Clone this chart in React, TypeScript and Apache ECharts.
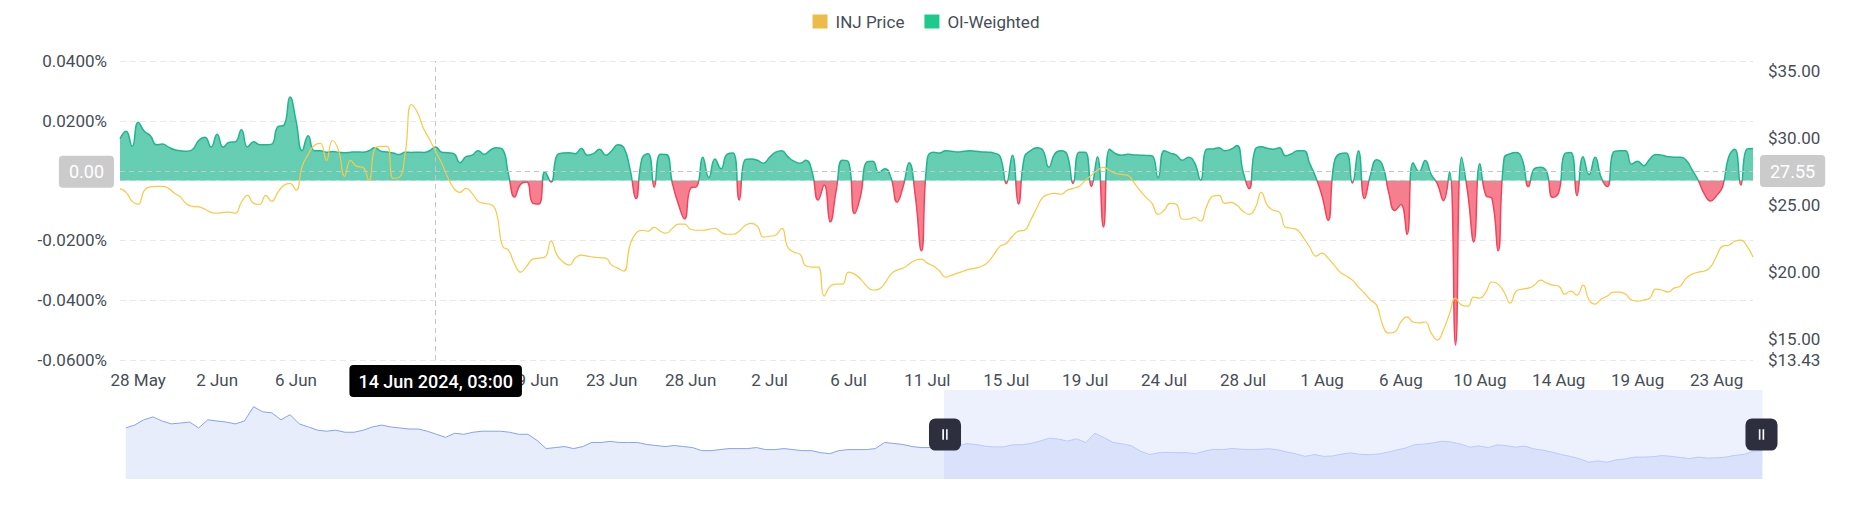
import React, { useEffect, useRef } from "react";
import * as echarts from "echarts";

// ---- time axis (8-hour steps, local time as shown on the chart) ----
const START_UTC = Date.UTC(2024, 4, 27, 19, 0);
const STEP_HOURS = 8;
const MONTHS = ["Jan", "Feb", "Mar", "Apr", "May", "Jun", "Jul", "Aug", "Sep", "Oct", "Nov", "Dec"];

// ---- INJ price (USD), one value per 8h ----
const injPrice = [
  26.24, 25.96, 25.29, 25.07, 26.11, 26.37, 26.41, 26.41, 26.26, 25.89,
  25.59, 25.07, 24.92, 24.88, 24.70, 24.47, 24.40, 24.47, 24.49, 24.40,
  25.22, 25.74, 25.14, 25.07, 25.74, 25.29, 25.96, 26.49, 26.64, 26.11,
  27.90, 28.80, 29.47, 29.62, 28.35, 29.84, 29.10, 27.16, 28.35, 27.90,
  27.83, 26.86, 29.25, 29.40, 29.40, 27.01, 27.08, 28.95, 32.53, 31.93,
  30.74, 29.92, 29.02, 28.13, 27.08, 26.26, 25.96, 26.26, 25.89, 25.29,
  25.14, 25.07, 24.47, 21.94, 21.64, 20.60, 20.00, 20.45, 20.97, 21.05,
  21.12, 22.31, 21.27, 20.75, 20.52, 21.05, 21.27, 21.19, 21.12, 21.08,
  21.05, 20.52, 20.30, 20.08, 22.01, 22.91, 23.13, 23.06, 23.35, 23.06,
  22.91, 23.28, 23.58, 23.58, 23.20, 23.13, 23.13, 23.20, 23.28, 22.98,
  22.83, 22.83, 23.06, 23.50, 23.65, 23.43, 22.61, 22.68, 22.76, 23.28,
  21.86, 21.49, 21.34, 20.45, 20.37, 20.37, 18.21, 18.95, 19.10, 19.10,
  20.00, 19.85, 19.48, 18.95, 18.66, 18.73, 19.18, 19.85, 20.15, 20.30,
  20.60, 20.89, 20.97, 20.67, 20.45, 20.08, 19.62, 19.77, 19.92, 20.08,
  20.22, 20.30, 20.45, 20.75, 21.34, 21.94, 22.16, 22.68, 23.06, 23.13,
  23.88, 24.77, 25.59, 25.82, 25.89, 25.82, 26.11, 26.26, 26.41, 26.86,
  27.23, 27.61, 27.83, 27.61, 27.38, 27.31, 27.23, 26.71, 26.11, 25.59,
  25.14, 24.32, 24.62, 25.14, 25.07, 23.95, 23.95, 24.10, 23.80, 24.92,
  25.67, 25.74, 25.14, 25.22, 24.99, 24.55, 24.32, 24.77, 25.96, 24.99,
  24.62, 24.47, 23.35, 23.28, 23.13, 22.53, 21.86, 21.19, 21.42, 21.05,
  20.52, 20.00, 19.70, 19.40, 18.88, 18.43, 17.91, 17.53, 16.04, 15.44,
  15.52, 16.27, 16.65, 16.27, 16.20, 16.27, 15.44, 14.92, 15.67, 16.87,
  18.06, 17.53, 17.46, 18.13, 18.06, 18.51, 19.26, 19.10, 18.51, 17.68,
  18.58, 18.73, 18.80, 19.03, 19.40, 19.18, 19.03, 18.95, 18.36, 18.58,
  18.28, 19.03, 17.91, 17.61, 17.98, 18.21, 18.51, 18.51, 18.36, 17.91,
  17.83, 17.91, 18.06, 18.73, 18.66, 18.51, 18.80, 18.95, 19.55, 19.85,
  20.00, 20.08, 20.37, 21.19, 21.94, 22.01, 22.31, 22.39, 21.94, 21.12,
];

// ---- OI-weighted funding rate (%), one value per 8h ----
const oiWeighted = [
  0.0140, 0.0165, 0.0115, 0.0195, 0.0165, 0.0150, 0.0120, 0.0122, 0.0112, 0.0103,
  0.0100, 0.0098, 0.0105, 0.0135, 0.0145, 0.0112, 0.0155, 0.0112, 0.0128, 0.0130,
  0.0170, 0.0112, 0.0130, 0.0120, 0.0120, 0.0122, 0.0180, 0.0185, 0.0280, 0.0200,
  0.0100, 0.0150, 0.0100, 0.0100, 0.0095, 0.0097, 0.0095, 0.0093, 0.0095, 0.0096,
  0.0095, 0.0100, 0.0110, 0.0098, 0.0096, 0.0092, 0.0087, 0.0095, 0.0094, 0.0095,
  0.0094, 0.0100, 0.0112, 0.0095, 0.0093, 0.0090, 0.0060, 0.0080, 0.0085, 0.0100,
  0.0088, 0.0102, 0.0110, 0.0105, 0.0020, -0.0055, -0.0012, -0.0005, -0.0075, -0.0078,
  0.0030, -0.0005, 0.0085, 0.0092, 0.0093, 0.0090, 0.0107, 0.0085, 0.0090, 0.0105,
  0.0085, 0.0100, 0.0120, 0.0110, 0.0040, -0.0060, 0.0075, 0.0090, -0.0022, 0.0088,
  0.0087, -0.0010, -0.0080, -0.0128, -0.0025, -0.0020, 0.0078, 0.0010, 0.0072, 0.0040,
  0.0088, 0.0092, -0.0065, 0.0070, 0.0072, 0.0068, 0.0058, 0.0078, 0.0095, 0.0100,
  0.0080, 0.0065, 0.0058, 0.0068, 0.0030, -0.0065, -0.0015, -0.0138, -0.0030, 0.0068,
  0.0062, -0.0110, -0.0050, 0.0062, 0.0065, 0.0028, 0.0040, 0.0010, -0.0072, -0.0020,
  0.0060, -0.0050, -0.0235, 0.0075, 0.0095, 0.0092, 0.0100, 0.0098, 0.0096, 0.0098,
  0.0100, 0.0098, 0.0096, 0.0095, 0.0092, 0.0080, -0.0010, 0.0085, -0.0078, 0.0080,
  0.0100, 0.0110, 0.0102, 0.0045, 0.0090, 0.0100, 0.0088, -0.0010, 0.0095, 0.0095,
  -0.0020, 0.0080, -0.0155, 0.0105, 0.0090, 0.0085, 0.0088, 0.0086, 0.0085, 0.0084,
  0.0083, 0.0010, 0.0100, 0.0092, 0.0085, 0.0068, 0.0078, 0.0060, 0.0002, 0.0105,
  0.0106, 0.0110, 0.0100, 0.0105, 0.0117, 0.0030, -0.0027, 0.0105, 0.0113, 0.0108,
  0.0105, 0.0110, 0.0083, 0.0090, 0.0100, 0.0100, 0.0056, 0.0010, -0.0050, -0.0133,
  0.0060, 0.0090, 0.0092, -0.0008, 0.0100, -0.0060, 0.0020, 0.0070, 0.0050, -0.0040,
  -0.0100, -0.0080, -0.0180, 0.0060, 0.0030, 0.0067, 0.0020, -0.0010, -0.0067, 0.0030,
  -0.0550, 0.0078, -0.0040, -0.0205, 0.0056, -0.0050, -0.0060, -0.0235, 0.0075, 0.0090,
  0.0094, 0.0070, -0.0020, 0.0040, 0.0045, 0.0030, -0.0056, -0.0040, 0.0090, 0.0094,
  -0.0050, 0.0080, 0.0020, 0.0078, 0.0010, -0.0020, 0.0095, 0.0100, 0.0100, 0.0055,
  0.0065, 0.0050, 0.0072, 0.0087, 0.0085, 0.0080, 0.0078, 0.0078, 0.0068, 0.0035,
  0.0000, -0.0045, -0.0068, -0.0050, -0.0020, 0.0080, 0.0105, -0.0015, 0.0105, 0.0107,
];

// ---- earlier daily price history shown only in the zoom slider ----
const priceHistoryBefore = [
  35.6, 37.3, 40.4, 42.1, 39.7, 38.0, 38.5, 39.1, 35.6, 40.4,
  39.7, 39.1, 38.0, 39.7, 48.1, 45.1, 44.5, 40.4, 43.4, 38.0,
  36.2, 34.3, 33.7, 34.3, 33.1, 33.1, 34.3, 36.2, 37.3, 36.2,
  35.6, 35.0, 35.0, 33.7, 31.9, 30.1, 32.5, 31.9, 33.1, 33.7,
  33.7, 33.7, 33.1, 31.9, 31.9, 28.3, 23.5, 24.1, 24.7, 23.5,
  24.7, 27.1, 27.1, 27.7, 27.1, 27.1, 27.1, 25.9, 25.3, 24.7,
  25.3, 24.7, 24.1, 22.3, 22.3, 22.9, 23.5, 23.5, 23.5, 24.1,
  22.9, 22.9, 23.5, 22.9, 22.3, 22.3, 21.1, 20.5, 22.3, 22.9,
  22.9, 22.9, 23.5, 27.1, 26.5, 25.9, 24.7, 24.1, 24.1, 24.1,
];

// crosshair state captured in the reference
const POINTER_CATEGORY = "2024-06-14 03:00";
const POINTER_RATE = 0.003;
const POINTER_PRICE = 27.55;

const pad = (n: number) => (n < 10 ? "0" + n : "" + n);
const categories = injPrice.map((_, i) => {
  const d = new Date(START_UTC + i * STEP_HOURS * 3600 * 1000);
  return `${d.getUTCFullYear()}-${pad(d.getUTCMonth() + 1)}-${pad(d.getUTCDate())} ${pad(d.getUTCHours())}:${pad(d.getUTCMinutes())}`;
});
const parseCat = (s: string) => {
  const [date, time] = s.split(" ");
  const [y, m, d] = date.split("-").map(Number);
  return { y, m, d, time };
};
const fmtDay = (s: string) => {
  const p = parseCat(s);
  return `${p.d} ${MONTHS[p.m - 1]}`;
};
const fmtFull = (s: string) => {
  const p = parseCat(s);
  return `${p.d} ${MONTHS[p.m - 1]} ${p.y}, ${p.time}`;
};

const historySeries = [...priceHistoryBefore, ...injPrice.filter((_, i) => i % 3 === 0)];
const historyCategories = historySeries.map((_, i) => "d" + i);

const FONT = 'Roboto, "Noto Sans", sans-serif';
const TEXT = "#474d57";

export default function App() {
  const ref = useRef<HTMLDivElement>(null);
  useEffect(() => {
    if (!ref.current) return;
    const chart = echarts.init(ref.current, undefined, { renderer: "svg" });
    const pointerIndex = categories.indexOf(POINTER_CATEGORY);
    const option: any = {
      animation: false,
      textStyle: { fontFamily: FONT },
      legend: {
        top: 8,
        left: "center",
        icon: "rect",
        itemWidth: 15,
        itemHeight: 14,
        itemGap: 20,
        textStyle: { fontSize: 17, color: TEXT, fontFamily: FONT, padding: [0, 0, 0, 3] },
        data: [
          { name: "INJ Price", itemStyle: { color: "#ecbb48" } },
          { name: "OI-Weighted", itemStyle: { color: "#1dc98b" } },
        ],
      },
      grid: [
        { left: 120, right: 99, top: 61, bottom: 165 },
        { left: 120, right: 99, top: 61, bottom: 165 },
      ],
      xAxis: [
        {
          type: "category",
          gridIndex: 0,
          data: categories,
          boundaryGap: false,
          axisLine: { show: false },
          axisTick: { show: false },
          splitLine: { show: false },
          axisLabel: {
            interval: (i: number) => i % 13 === 3,
            formatter: (v: string) => fmtDay(v),
            fontSize: 17,
            color: TEXT,
            fontFamily: FONT,
            margin: 11,
          },
          axisPointer: {
            show: true,
            status: "show",
            value: pointerIndex,
            type: "line",
            lineStyle: { color: "#c6c6c6", type: [5, 4], width: 1 },
            label: {
              show: true,
              formatter: (p: any) => fmtFull(String(p.value)),
              backgroundColor: "#000",
              color: "#fff",
              fontSize: 18,
              fontWeight: 500,
              fontFamily: FONT,
              padding: [7, 9, 7, 9],
              borderRadius: 4,
              margin: 5,
            },
          },
        },
        {
          type: "category",
          gridIndex: 1,
          data: historyCategories,
          boundaryGap: false,
          show: false,
        },
      ],
      yAxis: [
        {
          type: "value",
          gridIndex: 0,
          min: -0.06,
          max: 0.04,
          interval: 0.02,
          axisLine: { show: false },
          axisTick: { show: false },
          axisLabel: {
            // the zero label sits under the crosshair's value tag in the reference
            formatter: (v: number) => (Math.abs(v) < 1e-9 ? "" : v.toFixed(4) + "%"),
            fontSize: 17,
            color: TEXT,
            fontFamily: FONT,
            margin: 13,
          },
          splitLine: { lineStyle: { color: "#e9e9e9", type: [6, 4] } },
          axisPointer: {
            show: true,
            status: "show",
            value: POINTER_RATE,
            type: "line",
            lineStyle: { color: "#c6c6c6", type: [5, 4], width: 1 },
            label: {
              show: true,
              formatter: (p: any) => Number(p.value).toFixed(2),
              backgroundColor: "#cbcbcb",
              color: "#fff",
              fontSize: 18,
              fontFamily: FONT,
              padding: [7, 10, 7, 10],
              borderRadius: 4,
              margin: 6,
            },
          },
        },
        {
          type: "value",
          gridIndex: 0,
          position: "right",
          min: (v: any) => v.min * 0.9,
          max: (v: any) => v.max * 1.1,
          axisLine: { show: false },
          axisTick: { show: false },
          splitLine: { show: false },
          axisLabel: {
            formatter: (v: number) => "$" + v.toFixed(2),
            showMaxLabel: false,
            fontSize: 17,
            color: TEXT,
            fontFamily: FONT,
            margin: 15,
          },
          axisPointer: {
            show: true,
            status: "show",
            value: POINTER_PRICE,
            type: "line",
            lineStyle: { color: "#c6c6c6", type: [5, 4], width: 1 },
            label: {
              show: true,
              formatter: (p: any) => Number(p.value).toFixed(2),
              backgroundColor: "#cbcbcb",
              color: "#fff",
              fontSize: 18,
              fontFamily: FONT,
              padding: [7, 10, 7, 10],
              borderRadius: 4,
              margin: 7,
            },
          },
        },
        { type: "value", gridIndex: 1, show: false, scale: true },
      ],
      visualMap: {
        type: "piecewise",
        show: false,
        seriesIndex: 1,
        dimension: 1,
        pieces: [
          { gte: -1, lte: 0, color: "#f2435a" },
          { gt: 0, lte: 1, color: "#1db68e" },
        ],
      },
      dataZoom: [
        {
          type: "slider",
          xAxisIndex: 1,
          start: 50,
          end: 100,
          left: 123,
          right: 92,
          top: 390,
          height: 89,
          showDetail: false,
          brushSelect: false,
          moveHandleSize: 0,
          backgroundColor: "rgba(0,0,0,0)",
          borderColor: "rgba(0,0,0,0)",
          borderRadius: 0,
          fillerColor: "rgba(222,230,251,0.55)",
          dataBackground: {
            lineStyle: { color: "#86a3f0", width: 1, opacity: 1 },
            areaStyle: { color: "#e8edfb", opacity: 1 },
          },
          selectedDataBackground: {
            lineStyle: { color: "#8eaaf3", width: 1, opacity: 1 },
            areaStyle: { color: "#d3ddf8", opacity: 1 },
          },
          handleIcon:
            "path://M5,0 H20 A5,5 0 0 1 25,5 V20 A5,5 0 0 1 20,25 H5 A5,5 0 0 1 0,20 V5 A5,5 0 0 1 5,0 Z M10.4,8.5 V16.5 H11.7 V8.5 Z M13.3,8.5 V16.5 H14.6 V8.5 Z",
          handleSize: "36%",
          handleStyle: { color: "#2d2f3e", borderColor: "#2d2f3e", borderWidth: 0 },
          emphasis: { handleStyle: { color: "#2d2f3e", borderColor: "#2d2f3e" } },
        },
      ],
      series: [
        {
          name: "INJ Price",
          type: "line",
          xAxisIndex: 0,
          yAxisIndex: 1,
          data: injPrice,
          smooth: true,
          showSymbol: false,
          lineStyle: { color: "#fbc846", width: 1.2 },
          itemStyle: { color: "#fbc846" },
          z: 4,
        },
        {
          name: "OI-Weighted",
          type: "line",
          xAxisIndex: 0,
          yAxisIndex: 0,
          data: oiWeighted,
          smooth: true,
          showSymbol: false,
          lineStyle: { width: 1.5 },
          itemStyle: { color: "#1db68e" },
          areaStyle: { opacity: 0.68 },
          z: 3,
        },
        {
          name: "history",
          type: "line",
          xAxisIndex: 1,
          yAxisIndex: 2,
          data: historySeries,
          showSymbol: false,
          silent: true,
          lineStyle: { opacity: 0 },
          itemStyle: { opacity: 0 },
        },
      ],
    };
    chart.setOption(option);
    const onResize = () => chart.resize();
    window.addEventListener("resize", onResize);
    return () => {
      window.removeEventListener("resize", onResize);
      chart.dispose();
    };
  }, []);
  return (
    <div
      ref={ref}
      style={{ position: "fixed", left: 0, top: 0, width: "100vw", height: "100vh", background: "#fff" }}
    />
  );
}
